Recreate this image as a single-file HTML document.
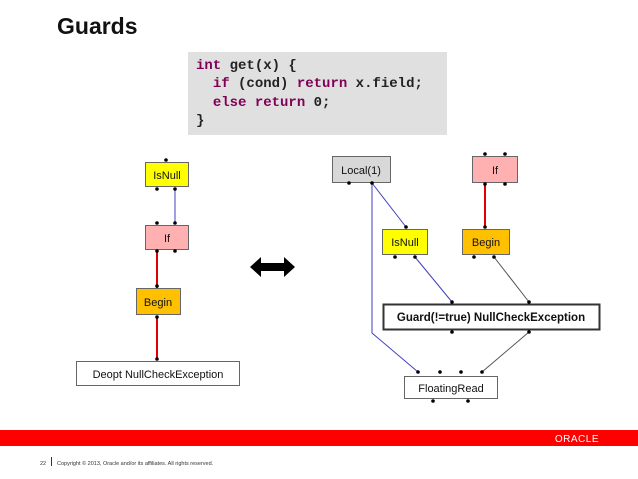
<!DOCTYPE html>
<html><head><style>
body{margin:0;width:638px;height:479px;background:#fff;position:relative;overflow:hidden;font-family:"Liberation Sans",sans-serif}
.t{position:absolute;left:57px;top:13px;font-size:23px;font-weight:bold;color:#111}
.code{position:absolute;left:188px;top:52px;width:259px;height:83px;background:#e0e0e0}
.code pre{margin:0;padding:5px 0 0 8px;font-family:"Liberation Mono",monospace;font-weight:bold;font-size:14px;line-height:18.3px;color:#222}
.k{color:#7f0055}
</style></head><body>
<div class="t">Guards</div>
<div class="code"><pre><span class="k">int</span> get(x) {
  <span class="k">if</span> (cond) <span class="k">return</span> x.field;
  <span class="k">else return</span> 0;
}</pre></div>
<svg width="638" height="479" style="position:absolute;left:0;top:0" font-family="Liberation Sans, sans-serif" font-size="11">
<g stroke-width="1">
<line x1="175" y1="189" x2="175" y2="223" stroke="#4040c0"/>
<line x1="157" y1="251" x2="157" y2="288" stroke="#e00000" stroke-width="2"/>
<line x1="157" y1="317" x2="157" y2="359" stroke="#e00000" stroke-width="2"/>
<line x1="372" y1="183" x2="406" y2="227" stroke="#4040c0"/>
<polyline points="372,183 372,333 418,372" fill="none" stroke="#4040c0"/>
<line x1="415" y1="257" x2="452" y2="302" stroke="#4040c0"/>
<line x1="494" y1="257" x2="529" y2="302" stroke="#555"/>
<line x1="529" y1="332" x2="482" y2="372" stroke="#555"/>
<line x1="485" y1="184" x2="485" y2="227" stroke="#e00000" stroke-width="2"/>
</g>
<g stroke="#666">
<rect x="145.5" y="162.5" width="43" height="24" fill="#ffff00"/>
<rect x="145.5" y="225.5" width="43" height="24" fill="#ffb0b0"/>
<rect x="136.5" y="288.5" width="44" height="26" fill="#ffc000"/>
<rect x="76.5" y="361.5" width="163" height="24" fill="#fff"/>
<rect x="332.5" y="156.5" width="58" height="26" fill="#d8d8d8"/>
<rect x="472.5" y="156.5" width="45" height="26" fill="#ffb0b0"/>
<rect x="382.5" y="229.5" width="45" height="25" fill="#ffff00"/>
<rect x="462.5" y="229.5" width="47" height="25" fill="#ffc000"/>
<rect x="383.5" y="304.5" width="216" height="25" fill="#fff" stroke="#333" stroke-width="2"/>
<rect x="404.5" y="376.5" width="93" height="22" fill="#fff"/>
</g>
<g fill="#111" text-anchor="middle">
<text x="167" y="179">IsNull</text>
<text x="167" y="242">If</text>
<text x="158" y="306">Begin</text>
<text x="158" y="378">Deopt NullCheckException</text>
<text x="361" y="174">Local(1)</text>
<text x="495" y="174">If</text>
<text x="405" y="246">IsNull</text>
<text x="486" y="246">Begin</text>
<text x="491" y="321" font-weight="bold" font-size="11.5">Guard(!=true) NullCheckException</text>
<text x="451" y="392">FloatingRead</text>
</g>
<g fill="#000">
<circle cx="166" cy="160" r="1.8"/><circle cx="157" cy="189" r="1.8"/><circle cx="175" cy="189" r="1.8"/>
<circle cx="157" cy="223" r="1.8"/><circle cx="175" cy="223" r="1.8"/><circle cx="157" cy="251" r="1.8"/><circle cx="175" cy="251" r="1.8"/>
<circle cx="157" cy="286" r="1.8"/><circle cx="157" cy="317" r="1.8"/><circle cx="157" cy="359" r="1.8"/>
<circle cx="349" cy="183" r="1.8"/><circle cx="372" cy="183" r="1.8"/>
<circle cx="485" cy="154" r="1.8"/><circle cx="505" cy="154" r="1.8"/><circle cx="485" cy="184" r="1.8"/><circle cx="505" cy="184" r="1.8"/>
<circle cx="406" cy="227" r="1.8"/><circle cx="395" cy="257" r="1.8"/><circle cx="415" cy="257" r="1.8"/>
<circle cx="485" cy="227" r="1.8"/><circle cx="474" cy="257" r="1.8"/><circle cx="494" cy="257" r="1.8"/>
<circle cx="452" cy="302" r="1.8"/><circle cx="529" cy="302" r="1.8"/><circle cx="452" cy="332" r="1.8"/><circle cx="529" cy="332" r="1.8"/>
<circle cx="418" cy="372" r="1.8"/><circle cx="440" cy="372" r="1.8"/><circle cx="461" cy="372" r="1.8"/><circle cx="482" cy="372" r="1.8"/>
<circle cx="433" cy="401" r="1.8"/><circle cx="468" cy="401" r="1.8"/>
</g>
<polygon points="250,267 261,257 261,263 284,263 284,257 295,267 284,277 284,271 261,271 261,277" fill="#000"/>
<rect x="0" y="430" width="638" height="16" fill="#ff0000"/>
<text x="599" y="442" fill="#fff" font-size="10" text-anchor="end" letter-spacing="0.5">ORACLE</text>
<text x="40" y="465" font-size="5.5" fill="#333">22</text>
<rect x="51" y="457" width="1" height="9" fill="#333"/>
<text x="57" y="465" font-size="5.5" fill="#333">Copyright © 2013, Oracle and/or its affiliates. All rights reserved.</text>
</svg>
</body></html>
